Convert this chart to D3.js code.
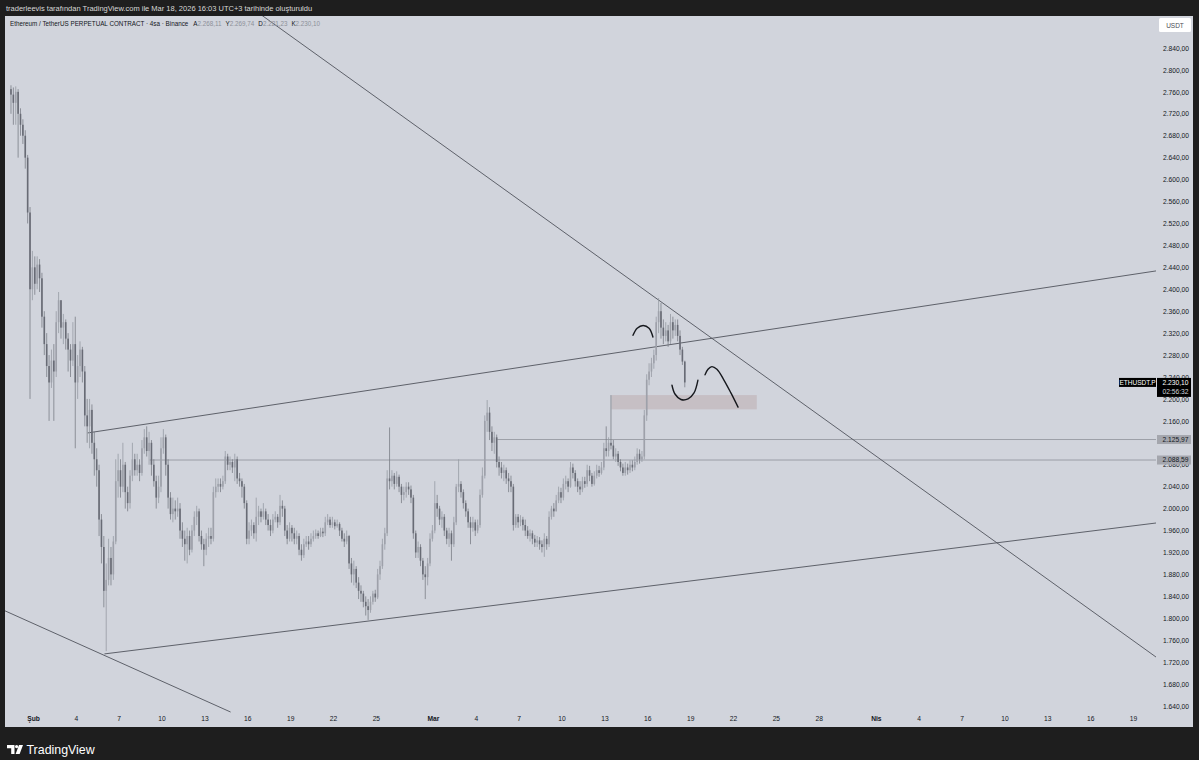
<!DOCTYPE html>
<html>
<head>
<meta charset="utf-8">
<script src="https://cdn.jsdelivr.net/npm/d3@7"></script>
<style>
  body { margin: 0; background: #1e1e1e; }
  svg { display: block; font-family: "Liberation Sans", Arial, sans-serif; }
</style>
</head>
<body>
<div id="chart"></div>
<script>
// ETHUSDT.P 4h candles, first bar 2026-01-30 11:00 (UTC+3)
var firstBar = "2026-01-30T11:00";
var firstOpen = 2765;
var closes = [
  2755, 2740, 2760, 2720, 2700, 2680, 2640, 2540, 2400, 2440,
  2410, 2445, 2420, 2350, 2300, 2260, 2230, 2270, 2250, 2340,
  2380, 2330, 2340, 2310, 2290, 2270, 2300, 2230, 2260, 2290,
  2250, 2170, 2150, 2180, 2120, 2090, 2070, 1980, 1930, 1850,
  1870, 1910, 1880, 1940, 2050, 2070, 2040, 2080, 2030, 2010,
  2060, 2090, 2070, 2080, 2065, 2110, 2130, 2105, 2120, 2080,
  2050, 2020, 2040, 2110, 2130, 2080, 2020, 1990, 2000, 1995,
  2000, 1960, 1945, 1935, 1950, 1925, 1960, 1985, 1995, 1950,
  1935, 1925, 1945, 1950, 1945, 2030, 2040, 2045, 2040, 2050,
  2095, 2080, 2085, 2075, 2090, 2055, 2050, 2040, 2010, 1945,
  1960, 1970, 1955, 1985, 1995, 1985, 1995, 1980, 1970, 1960,
  1980, 1985, 1975, 2005, 2000, 1960, 1945, 1965, 1955, 1945,
  1950, 1925, 1915, 1935, 1940, 1935, 1945, 1950, 1955, 1950,
  1958, 1955, 1975, 1980, 1970, 1975, 1968, 1972, 1960, 1945,
  1940, 1950, 1900, 1880, 1890, 1865, 1850, 1845, 1830, 1822,
  1815, 1830, 1845, 1838, 1880, 1895, 1935, 1955, 2055, 2050,
  2060, 2045, 2058, 2040, 2025, 2030, 2040, 2035, 2020, 1955,
  1920, 1930, 1905, 1880, 1875, 1900, 1945, 1960, 2010, 2000,
  1980, 1985, 1960, 1945, 1955, 1935, 1975, 2040, 2045, 2030,
  2010, 1995, 1975, 1965, 1975, 1960, 1970, 2025, 2060, 2160,
  2175, 2140, 2120, 2130, 2085, 2075, 2065, 2070, 2055, 2050,
  2040, 1970, 1985, 1975, 1980, 1970, 1960, 1950, 1955, 1945,
  1938, 1942, 1935, 1930, 1945, 1935, 1985, 2000, 1995, 2015,
  2030, 2020, 2045, 2050, 2040, 2075, 2065, 2050, 2040, 2035,
  2050, 2045, 2070, 2060, 2045, 2060, 2070, 2065, 2075, 2110,
  2105, 2120, 2115, 2095, 2100, 2085, 2075, 2065, 2075, 2070,
  2080, 2075, 2085, 2100, 2090, 2095, 2170, 2235, 2250, 2265,
  2280, 2340, 2360, 2330, 2315, 2325, 2305, 2340, 2325, 2335,
  2315, 2290, 2268.11, 2230.10
];
var highs = [
  2772, 2768, 2770, 2765, 2730, 2710, 2690, 2645, 2550, 2470,
  2460, 2460, 2455, 2430, 2360, 2320, 2280, 2290, 2300, 2360,
  2395, 2360, 2355, 2345, 2320, 2300, 2340, 2350, 2280, 2305,
  2295, 2260, 2200, 2200, 2190, 2140, 2110, 2080, 1990, 1950,
  1900, 1945, 1930, 1950, 2090, 2100, 2090, 2120, 2085, 2040,
  2070, 2120, 2100, 2100, 2090, 2125, 2145, 2150, 2140, 2125,
  2090, 2060, 2060, 2130, 2145, 2135, 2090, 2030, 2020, 2015,
  2020, 2010, 1975, 1960, 1965, 1960, 1970, 1995, 2005, 2000,
  1960, 1945, 1955, 1965, 1965, 2040, 2055, 2055, 2055, 2060,
  2105, 2100, 2095, 2090, 2100, 2095, 2065, 2055, 2045, 2015,
  1975, 1980, 1975, 2020, 2005, 2000, 2010, 2000, 1990, 1980,
  1990, 1995, 1990, 2025, 2015, 2005, 1970, 1975, 1970, 1965,
  1960, 1955, 1935, 1945, 1950, 1950, 1955, 1960, 1962, 1960,
  1965, 1965, 1985, 1990, 1985, 1985, 1980, 1980, 1975, 1965,
  1955, 1960, 1952, 1910, 1905, 1895, 1875, 1860, 1850, 1840,
  1835, 1840, 1850, 1852, 1890, 1905, 1945, 1965, 2070, 2148,
  2070, 2065, 2068, 2062, 2045, 2040, 2048, 2048, 2042, 2025,
  1960, 1940, 1935, 1910, 1895, 1910, 1955, 1970, 2050, 2025,
  2005, 1995, 1990, 1965, 1965, 1960, 1985, 2045, 2090, 2050,
  2035, 2015, 2000, 1985, 1985, 1980, 1980, 2035, 2075, 2170,
  2198, 2185, 2150, 2140, 2135, 2095, 2085, 2080, 2075, 2065,
  2060, 2045, 1990, 1990, 1988, 1985, 1980, 1968, 1962, 1960,
  1952, 1950, 1948, 1942, 1955, 1950, 1995, 2005, 2010, 2025,
  2040, 2038, 2055, 2060, 2055, 2085, 2082, 2070, 2055, 2050,
  2058, 2058, 2080, 2078, 2065, 2068, 2080, 2078, 2085, 2120,
  2150, 2130, 2207, 2125, 2110, 2105, 2090, 2082, 2085, 2082,
  2088, 2088, 2095, 2110, 2108, 2105, 2180, 2245, 2265, 2275,
  2290, 2350, 2384, 2375, 2345, 2340, 2335, 2355, 2350, 2345,
  2345, 2325, 2295, 2269.74
];
var lows = [
  2720, 2700, 2700, 2640, 2680, 2665, 2620, 2520, 2200, 2380,
  2390, 2400, 2395, 2330, 2280, 2240, 2160, 2220, 2160, 2240,
  2320, 2310, 2300, 2290, 2250, 2240, 2260, 2110, 2200, 2240,
  2230, 2150, 2120, 2110, 2100, 2060, 2040, 1950, 1900, 1820,
  1740, 1860, 1860, 1870, 1935, 2020, 2020, 2030, 2000, 1995,
  2000, 2050, 2060, 2060, 2050, 2060, 2100, 2095, 2080, 2060,
  2040, 2000, 2010, 2030, 2100, 2060, 2000, 1980, 1975, 1980,
  1985, 1945, 1930, 1905, 1900, 1915, 1920, 1950, 1970, 1940,
  1925, 1895, 1915, 1930, 1935, 1940, 2020, 2030, 2030, 2035,
  2045, 2070, 2070, 2065, 2050, 2045, 2040, 2020, 2000, 1935,
  1935, 1950, 1945, 1940, 1970, 1975, 1980, 1970, 1960, 1950,
  1955, 1975, 1965, 1970, 1985, 1950, 1935, 1940, 1940, 1935,
  1935, 1915, 1905, 1910, 1930, 1925, 1930, 1940, 1945, 1945,
  1948, 1948, 1950, 1970, 1965, 1965, 1962, 1965, 1950, 1940,
  1930, 1935, 1890, 1865, 1860, 1855, 1835, 1830, 1820, 1805,
  1797, 1810, 1825, 1830, 1835, 1870, 1890, 1925, 1950, 2035,
  2040, 2035, 2040, 2030, 2010, 2015, 2020, 2025, 2010, 1945,
  1910, 1910, 1895, 1870, 1835, 1860, 1895, 1940, 1955, 1985,
  1970, 1965, 1950, 1935, 1930, 1905, 1930, 1970, 2030, 2020,
  2000, 1985, 1965, 1935, 1958, 1950, 1955, 1965, 2020, 2055,
  2140, 2125, 2105, 2100, 2075, 2060, 2055, 2050, 2045, 2030,
  2030, 1960, 1965, 1965, 1968, 1960, 1950, 1945, 1940, 1935,
  1930, 1930, 1925, 1920, 1912, 1925, 1930, 1980, 1985, 1995,
  2010, 2010, 2015, 2035, 2030, 2038, 2055, 2040, 2030, 2025,
  2030, 2038, 2040, 2050, 2040, 2042, 2055, 2058, 2062, 2070,
  2095, 2095, 2108, 2090, 2085, 2078, 2068, 2060, 2060, 2062,
  2065, 2068, 2070, 2080, 2082, 2085, 2090, 2160, 2225, 2240,
  2255, 2270, 2320, 2310, 2300, 2305, 2295, 2300, 2310, 2315,
  2305, 2280, 2262, 2221.23
];

var priceTicks = [1640, 1680, 1720, 1760, 1800, 1840, 1880, 1920, 1960, 2000, 2040,
  2080, 2120, 2160, 2200, 2240, 2280, 2320, 2360, 2400, 2440, 2480, 2520, 2560,
  2600, 2640, 2680, 2720, 2760, 2800, 2840];
var timeTicks = ["2026-02-01", "2026-02-04", "2026-02-07", "2026-02-10", "2026-02-13",
  "2026-02-16", "2026-02-19", "2026-02-22", "2026-02-25", "2026-03-01", "2026-03-04",
  "2026-03-07", "2026-03-10", "2026-03-13", "2026-03-16", "2026-03-19", "2026-03-22",
  "2026-03-25", "2026-03-28", "2026-04-01", "2026-04-04", "2026-04-07", "2026-04-10",
  "2026-04-13", "2026-04-16", "2026-04-19"];
var monthNames = ["Oca", "Şub", "Mar", "Nis"];

// drawings on the chart (time, price)
var trendLines = [
  [["2026-02-17T00:00", 2900], ["2026-04-21T00:00", 1722]],
  [["2026-02-04T20:00", 2138], ["2026-04-21T00:00", 2435]],
  [["2026-02-06T00:00", 1735], ["2026-04-21T00:00", 1975]],
  [["2026-01-30T00:00", 1814], ["2026-02-14T20:00", 1629]]
];
var hLines = [
  ["2026-03-05T12:00", 2125.97],
  ["2026-02-09T04:00", 2088.59]
];
var zone = {from: "2026-03-13T12:00", to: "2026-03-23T16:00", top: 2207, bottom: 2181};
var sketches = [
  [["2026-03-15T00:00", 2316], ["2026-03-15T07:00", 2329], ["2026-03-15T17:00", 2334],
   ["2026-03-16T03:00", 2329], ["2026-03-16T09:30", 2313]],
  [["2026-03-17T17:30", 2225], ["2026-03-17T22:30", 2209], ["2026-03-18T08:30", 2199],
   ["2026-03-18T20:30", 2200], ["2026-03-19T06:30", 2211], ["2026-03-19T13:00", 2234]],
  [["2026-03-20T01:00", 2244], ["2026-03-20T06:00", 2254], ["2026-03-20T12:30", 2259],
   ["2026-03-20T21:00", 2254], ["2026-03-21T09:00", 2234], ["2026-03-21T20:30", 2211],
   ["2026-03-22T08:30", 2185]]
];
var lastPrice = 2230.10, countdown = "02:56:32";

var W = 1199, H = 760;
var panel = {x: 5, y: 16, w: 1188, h: 711};
var plotRight = 1156;

var parse = d3.utcParse("%Y-%m-%dT%H:%M");
var parseDay = d3.utcParse("%Y-%m-%d");
var trLocale = d3.formatLocale({decimal: ",", thousands: ".", grouping: [3], currency: ["", ""]});
var fmtPrice = trLocale.format(",.2f");

var x = d3.scaleUtc()
  .domain([parseDay("2026-02-01"), parseDay("2026-04-19")])
  .range([33, 1133]);
var y = d3.scaleLinear()
  .domain([1640, 2840])
  .range([706, 48]);

var bars = closes.map(function(c, i){
  var o = i == 0 ? firstOpen : closes[i-1];
  return {
    t: d3.utcHour.offset(parse(firstBar), i*4),
    o: o, c: c,
    h: Math.max(highs[i], o, c),
    l: Math.min(lows[i], o, c)
  };
});

var svg = d3.select("#chart").append("svg")
  .attr("width", W)
  .attr("height", H);

svg.append("rect")
  .attr("width", W).attr("height", H)
  .attr("fill", "#1e1e1e");

svg.append("rect")
  .attr("x", panel.x).attr("y", panel.y)
  .attr("width", panel.w).attr("height", panel.h)
  .attr("fill", "#d1d4dc");

svg.append("clipPath").attr("id", "plot")
  .append("rect")
    .attr("x", panel.x).attr("y", panel.y)
    .attr("width", plotRight - panel.x).attr("height", panel.h);

var plot = svg.append("g").attr("clip-path", "url(#plot)");

// support zone
plot.append("rect")
  .attr("x", x(parse(zone.from)))
  .attr("y", y(zone.top))
  .attr("width", x(parse(zone.to)) - x(parse(zone.from)))
  .attr("height", y(zone.bottom) - y(zone.top))
  .attr("fill", "#c6bfc4");

// horizontal levels
plot.selectAll(".hline").data(hLines).enter().append("line")
  .attr("class", "hline")
  .attr("x1", function(d){ return x(parse(d[0])); })
  .attr("x2", plotRight)
  .attr("y1", function(d){ return y(d[1]); })
  .attr("y2", function(d){ return y(d[1]); })
  .attr("stroke", "#8e9199")
  .attr("stroke-width", 0.8);

// trend lines
plot.selectAll(".trend").data(trendLines).enter().append("line")
  .attr("class", "trend")
  .attr("x1", function(d){ return x(parse(d[0][0])); })
  .attr("y1", function(d){ return y(d[0][1]); })
  .attr("x2", function(d){ return x(parse(d[1][0])); })
  .attr("y2", function(d){ return y(d[1][1]); })
  .attr("stroke", "#50535c")
  .attr("stroke-width", 0.9);

// candles
var candle = plot.selectAll(".candle").data(bars).enter().append("g")
  .attr("class", "candle");

candle.append("line")
  .attr("x1", function(d){ return x(d.t); })
  .attr("x2", function(d){ return x(d.t); })
  .attr("y1", function(d){ return y(d.h); })
  .attr("y2", function(d){ return y(d.l); })
  .attr("stroke", function(d){ return d.c >= d.o ? "#969aa3" : "#7a7d87"; })
  .attr("stroke-width", 0.8);

candle.append("rect")
  .attr("x", function(d){ return x(d.t) - 0.8; })
  .attr("width", 1.6)
  .attr("y", function(d){ return y(Math.max(d.o, d.c)); })
  .attr("height", function(d){ return Math.max(0.8, Math.abs(y(d.o) - y(d.c))); })
  .attr("fill", function(d){ return d.c >= d.o ? "#9ea1aa" : "#686b75"; });

// hand drawn arcs
var sketchLine = d3.line()
  .x(function(d){ return x(parse(d[0])); })
  .y(function(d){ return y(d[1]); })
  .curve(d3.curveCatmullRom);

plot.selectAll(".sketch").data(sketches).enter().append("path")
  .attr("class", "sketch")
  .attr("d", sketchLine)
  .attr("fill", "none")
  .attr("stroke", "#16181d")
  .attr("stroke-width", 1.4)
  .attr("stroke-linecap", "round");

// price axis, labels sitting under a level box are hidden like on the platform
var boxPrices = hLines.map(function(d){ return d[1]; });
var yAxis = d3.axisLeft(y)
  .tickValues(priceTicks.filter(function(p){
    return !boxPrices.some(function(b){ return Math.abs(y(p) - y(b)) < 4; });
  }))
  .tickFormat(fmtPrice)
  .tickSize(0)
  .tickPadding(0);

svg.append("g")
  .attr("transform", "translate(1189,0)")
  .call(yAxis)
  .call(function(g){ g.select(".domain").remove(); })
  .selectAll("text")
    .attr("fill", "#131722")
    .style("font-size", "6.7px")
    .style("font-family", "Liberation Sans, Arial, sans-serif");

// time axis
var xAxis = d3.axisBottom(x)
  .tickValues(timeTicks.map(function(d){ return parseDay(d); }))
  .tickFormat(function(d){ return d.getUTCDate() == 1 ? monthNames[d.getUTCMonth()] : d.getUTCDate(); })
  .tickSize(0)
  .tickPadding(0);

svg.append("g")
  .attr("transform", "translate(0,716)")
  .call(xAxis)
  .call(function(g){ g.select(".domain").remove(); })
  .selectAll("text")
    .attr("fill", "#131722")
    .style("font-size", "6.7px")
    .style("font-family", "Liberation Sans, Arial, sans-serif")
    .style("font-weight", function(d){ return d.getUTCDate() == 1 ? "bold" : "normal"; });

// USDT box
svg.append("rect")
  .attr("x", 1159).attr("y", 18).attr("width", 32).attr("height", 14)
  .attr("rx", 1.5)
  .attr("fill", "#ffffff");
svg.append("text")
  .attr("x", 1175).attr("y", 27.5)
  .attr("text-anchor", "middle")
  .attr("fill", "#4a4d55")
  .style("font-size", "6.5px")
  .text("USDT");

// level labels on the axis
hLines.forEach(function(d){
  var py = y(d[1]);
  svg.append("rect")
    .attr("x", 1157).attr("y", py - 4.5).attr("width", 34).attr("height", 9)
    .attr("fill", "#a4a6ad");
  svg.append("text")
    .attr("x", 1188.5).attr("y", py + 2.4)
    .attr("text-anchor", "end")
    .attr("fill", "#131722")
    .style("font-size", "6.7px")
    .text(fmtPrice(d[1]));
});

// last price label
var ly = y(lastPrice);
svg.append("rect")
  .attr("x", 1119).attr("y", ly - 4.5).attr("width", 37).attr("height", 9)
  .attr("fill", "#000000");
svg.append("text")
  .attr("x", 1137.5).attr("y", ly + 2.4)
  .attr("text-anchor", "middle")
  .attr("fill", "#ffffff")
  .style("font-size", "6.5px")
  .text("ETHUSDT.P");
svg.append("rect")
  .attr("x", 1157).attr("y", ly - 4.5).attr("width", 34).attr("height", 19)
  .attr("fill", "#000000");
svg.append("text")
  .attr("x", 1188.5).attr("y", ly + 2.4)
  .attr("text-anchor", "end")
  .attr("fill", "#ffffff")
  .style("font-size", "6.7px")
  .text(fmtPrice(lastPrice));
svg.append("text")
  .attr("x", 1188.5).attr("y", ly + 11.4)
  .attr("text-anchor", "end")
  .attr("fill", "#d1d4dc")
  .style("font-size", "6.7px")
  .text(countdown);

// legend line
var last = bars[bars.length-1];
var legend = svg.append("text")
  .attr("x", 10).attr("y", 25.5)
  .attr("fill", "#131722")
  .style("font-size", "6.3px");
legend.append("tspan").text("Ethereum / TetherUS PERPETUAL CONTRACT · 4sa · Binance");
[["A", last.o], ["Y", last.h], ["D", last.l], ["K", last.c]].forEach(function(p, i){
  legend.append("tspan").attr("dx", i == 0 ? 5 : 4).text(p[0]);
  legend.append("tspan").attr("fill", "#8d9099").text(fmtPrice(p[1]));
});

// top caption
svg.append("text")
  .attr("x", 6).attr("y", 10.8)
  .attr("fill", "#d8d8d8")
  .style("font-size", "7.5px")
  .text("traderleevis tarafından TradingView.com ile Mar 18, 2026 16:03 UTC+3 tarihinde oluşturuldu");

// TradingView logo
var logo = svg.append("g").attr("fill", "#ffffff");
logo.append("path")
  .attr("d", "M7,745 H14.5 V754 H11.2 V748.2 H7 Z");
logo.append("circle").attr("cx", 16.6).attr("cy", 746.6).attr("r", 1.6);
logo.append("path")
  .attr("d", "M19,745 H23 L19.6,754 H15.6 Z");
svg.append("text")
  .attr("x", 26.5).attr("y", 754)
  .attr("fill", "#ffffff")
  .style("font-size", "12.4px")
  .text("TradingView");
</script>
</body>
</html>
